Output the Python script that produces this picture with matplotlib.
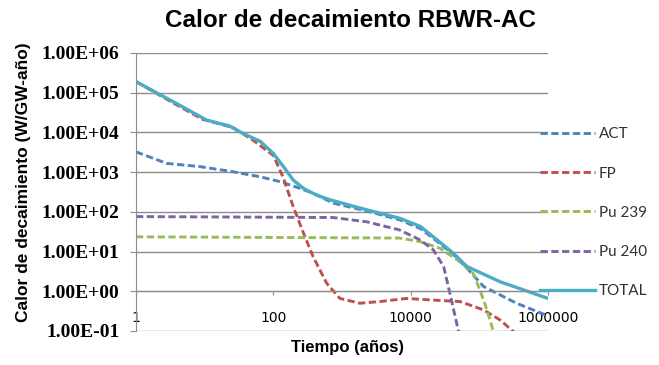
import matplotlib
matplotlib.use("Agg")
import matplotlib.pyplot as plt
from matplotlib.ticker import FixedLocator, NullLocator

# decay heat per component, W/GW-year vs time in years
t_act = [1, 2.8, 8.5, 26, 65, 126, 245, 400, 740, 2300, 6900, 13800, 21400, 41700, 66000, 115000, 347000, 1000000]
act = [3240, 1660, 1380, 1020, 760, 575, 390, 282, 166, 105, 63, 38, 21.4, 8.5, 3.8, 1.32, 0.50, 0.24]

t_fp = [1, 3.2, 9.3, 26, 51, 100, 138, 195, 275, 380, 600, 930, 1820, 3550, 8700, 21400, 52500, 115000, 200000, 316000, 400000]
fp = [190000, 60000, 21400, 13200, 6300, 2630, 760, 135, 29, 7.4, 1.58, 0.66, 0.50, 0.55, 0.66, 0.60, 0.55, 0.34, 0.19, 0.095, 0.063]

t_pu239 = [1, 6900, 13800, 26900, 52500, 81300, 102000, 129000, 158000, 178000]
pu239 = [23.5, 21.9, 17.8, 12.0, 5.5, 2.8, 1.07, 0.34, 0.105, 0.063]

t_pu240 = [1, 740, 2300, 6900, 13800, 21400, 30200, 37200, 46800, 52500]
pu240 = [76, 72, 56, 35, 19.5, 11, 4.2, 0.89, 0.155, 0.063]

t_total = [1, 3.5, 10.7, 23, 32, 46, 65, 100, 140, 195, 275, 427, 676, 2300, 6900, 13800, 21400, 41700, 66000, 200000, 1000000]
total = [190000, 59000, 20400, 14500, 10500, 7800, 5900, 2950, 1380, 630, 389, 263, 200, 112, 69, 43, 23.4, 9.1, 4.2, 1.74, 0.66]

y_ticks = [1e-1, 1e0, 1e1, 1e2, 1e3, 1e4, 1e5, 1e6]
y_labels = ["1.00E-01", "1.00E+00", "1.00E+01", "1.00E+02", "1.00E+03", "1.00E+04", "1.00E+05", "1.00E+06"]
x_ticks = [1, 100, 10000, 1000000]
x_labels = ["1", "100", "10000", "1000000"]

fig = plt.figure(figsize=(6.59, 3.65), dpi=100)
ax = fig.add_axes([0.2064, 0.0932, 0.6252, 0.7616])

dash = (0, (2.5, 1.2))
ax.plot(t_act, act, color="#4F81BD", lw=2.1, ls=dash, label="ACT")
ax.plot(t_fp, fp, color="#C0504D", lw=2.1, ls=dash, label="FP")
ax.plot(t_pu239, pu239, color="#9BBB59", lw=2.1, ls=dash, label="Pu 239")
ax.plot(t_pu240, pu240, color="#8064A2", lw=2.1, ls=dash, label="Pu 240")
ax.plot(t_total, total, color="#4BACC6", lw=2.4, label="TOTAL")

ax.set_xscale("log")
ax.set_yscale("log")
ax.set_xlim(1, 1e6)
ax.set_ylim(1e-1, 1e6)

ax.yaxis.set_major_locator(FixedLocator(y_ticks))
ax.yaxis.set_minor_locator(NullLocator())
ax.set_yticklabels(y_labels, fontfamily="Liberation Serif", fontsize=14, fontweight="bold")
ax.xaxis.set_major_locator(FixedLocator(x_ticks))
ax.xaxis.set_minor_locator(NullLocator())
ax.set_xticklabels(x_labels, fontfamily="Liberation Serif", fontsize=14, fontweight="bold")

ax.grid(axis="y", color="#8c8c8c", lw=1)
for s in ["top", "right"]:
    ax.spines[s].set_visible(False)
ax.spines["left"].set_color("#8c8c8c")
ax.spines["bottom"].set_color("#8c8c8c")
ax.spines["bottom"].set_position(("data", 1))
ax.tick_params(axis="y", length=4, color="#8c8c8c", pad=8)
ax.tick_params(axis="x", length=3, color="#8c8c8c", pad=11, direction="out")

ax.set_title("Calor de decaimiento RBWR-AC", fontsize=17.5, fontweight="bold",
             fontfamily="Liberation Sans", pad=19, x=0.52)
ax.set_ylabel("Calor de decaimiento (W/GW-año)", fontsize=12.5, fontweight="bold",
              fontfamily="Liberation Sans")
ax.yaxis.set_label_coords(-0.255, 0.536)
fig.text(0.527, 0.047, "Tiempo (años)", fontsize=12, fontweight="bold",
         fontfamily="Liberation Sans", ha="center", va="center")

leg = ax.legend(loc="center left", bbox_to_anchor=(0.808, 0.417), bbox_transform=fig.transFigure,
                frameon=False, handlelength=3.6, handletextpad=0.25, labelspacing=1.65,
                borderpad=0, prop={"family": "Lato", "size": 11})
for txt in leg.get_texts():
    txt.set_color("#333333")

fig.savefig("out.png", dpi=100)
